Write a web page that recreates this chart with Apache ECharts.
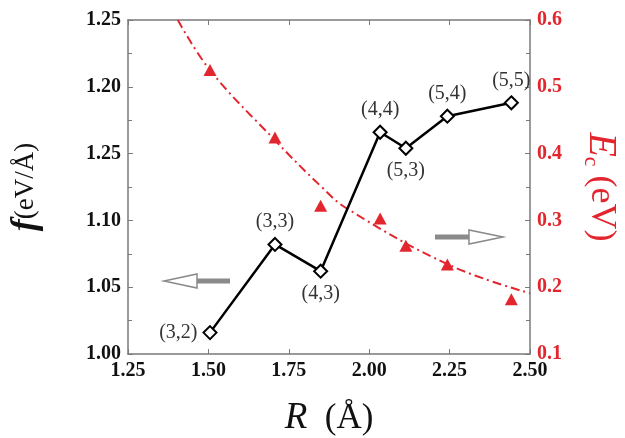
<!DOCTYPE html>
<html>
<head>
<meta charset="utf-8">
<script src="https://cdn.jsdelivr.net/npm/echarts@6/dist/echarts.min.js"></script>
<style>html,body{margin:0;padding:0;background:#fff}#c{width:625px;height:438px}</style>
</head>
<body>
<div id="c"></div>
<script>
// ---- data ----
var radius = [1.505, 1.707, 1.849, 2.034, 2.114, 2.243, 2.442];
var forceF = [1.016, 1.082, 1.062, 1.166, 1.154, 1.178, 1.188];
var pairLabels = ['(3,2)', '(3,3)', '(4,3)', '(4,4)', '(5,3)', '(5,4)', '(5,5)'];
var energyEc = [0.525, 0.424, 0.322, 0.303, 0.262, 0.234, 0.182];
var fitR = [1.405, 1.505, 1.707, 1.85, 1.93, 2.25, 2.5];
var fitEc = [0.60, 0.525, 0.42, 0.351, 0.318, 0.233, 0.191];
var leftTickLabels = ['1.00', '1.05', '1.10', '1.25', '1.20', '1.25'];
var rightTickLabels = ['0.1', '0.2', '0.3', '0.4', '0.5', '0.6'];
var xTickLabels = ['1.25', '1.50', '1.75', '2.00', '2.25', '2.50'];

var labelPos = ['left', 'top', 'bottom', 'top', 'bottom', 'top', 'top'];
var RED = '#e3262e';
var GRAY = '#7a7a7a';
var FONT = 'Liberation Serif';

var chart = echarts.init(document.getElementById('c'), null, {renderer: 'canvas'});
var blackData = radius.map(function (r, i) {
  return {value: [r, forceF[i]], label: {position: labelPos[i]}};
});
var option = {
  animation: false,
  grid: {left: 128, right: 95, top: 20, bottom: 84, containLabel: false, outerBoundsMode: 'none'},
  xAxis: [{
    type: 'value', min: 1.25, max: 2.5, interval: 0.25,
    axisLine: {lineStyle: {color: GRAY, width: 1.5}},
    axisTick: {inside: true, length: 5, lineStyle: {color: GRAY}},
    splitLine: {show: false},
    axisLabel: {
      margin: 7, color: '#111', fontFamily: FONT, fontWeight: 'bold', fontSize: 20,
      formatter: function (v) { return xTickLabels[Math.round((v - 1.25) / 0.25)]; }
    },
    name: '{r|R}{u|  (Å)}', nameLocation: 'middle', nameGap: 46,
    nameTextStyle: {rich: {
      r: {fontFamily: FONT, fontStyle: 'italic', fontSize: 37, color: '#111'},
      u: {fontFamily: FONT, fontSize: 35, color: '#111'}
    }}
  }, {
    type: 'value', position: 'top', min: 1.25, max: 2.5, interval: 0.25,
    axisLine: {lineStyle: {color: GRAY, width: 1.5}},
    axisTick: {inside: true, length: 5, lineStyle: {color: GRAY}},
    axisLabel: {show: false}, splitLine: {show: false}
  }],
  yAxis: [{
    type: 'value', min: 1.0, max: 1.25, interval: 0.05,
    axisLine: {show: true, lineStyle: {color: GRAY, width: 1.5}},
    axisTick: {show: true, inside: true, length: 5, lineStyle: {color: GRAY}},
    minorTick: {show: true, splitNumber: 2, length: 4, lineStyle: {color: GRAY}},
    splitLine: {show: false},
    axisLabel: {
      margin: 7, color: '#111', fontFamily: FONT, fontWeight: 'bold', fontSize: 20,
      formatter: function (v) { return leftTickLabels[Math.round((v - 1.0) / 0.05)]; }
    },
    name: '{f|f}{u|(eV/Å)}', nameLocation: 'middle', nameRotate: 90, nameGap: 84,
    nameTextStyle: {rich: {
      f: {fontFamily: FONT, fontStyle: 'italic', fontWeight: 'bold', fontSize: 36, color: '#111'},
      u: {fontFamily: FONT, fontSize: 27, color: '#111'}
    }}
  }, {
    type: 'value', position: 'right', min: 0.1, max: 0.6, interval: 0.1,
    axisLine: {show: true, lineStyle: {color: GRAY, width: 1.5}},
    axisTick: {show: true, inside: true, length: 5, lineStyle: {color: GRAY}},
    minorTick: {show: true, splitNumber: 2, length: 4, lineStyle: {color: GRAY}},
    splitLine: {show: false},
    axisLabel: {
      margin: 7, color: RED, fontFamily: FONT, fontWeight: 'bold', fontSize: 20,
      formatter: function (v) { return rightTickLabels[Math.round((v - 0.1) / 0.1)]; }
    },
    name: '{e|E}{c|c}{u| (eV)}', nameLocation: 'middle', nameRotate: -90, nameGap: 50,
    nameTextStyle: {rich: {
      e: {fontFamily: FONT, fontStyle: 'italic', fontSize: 40, color: RED},
      c: {fontFamily: FONT, fontSize: 22, color: RED, verticalAlign: 'bottom', padding: [20, 0, 0, 0]},
      u: {fontFamily: FONT, fontSize: 36, color: RED}
    }}
  }],
  series: [{
    type: 'line', xAxisIndex: 0, yAxisIndex: 1, data: fitR.map(function (r, i) { return [r, fitEc[i]]; }),
    smooth: 0.4, showSymbol: false, lineStyle: {color: RED, width: 2, type: [9, 4, 2, 4]}, z: 2
  }, {
    type: 'scatter', xAxisIndex: 0, yAxisIndex: 1, data: radius.map(function (r, i) { return [r, energyEc[i]]; }),
    symbol: 'triangle', symbolSize: [13, 12], itemStyle: {color: RED, opacity: 1}, z: 3
  }, {
    type: 'line', xAxisIndex: 0, yAxisIndex: 0, data: blackData,
    symbol: 'diamond', symbolSize: 13, showSymbol: true,
    lineStyle: {color: '#000', width: 2.5},
    itemStyle: {color: '#fff', borderColor: '#000', borderWidth: 2},
    label: {show: true, formatter: function (p) { return pairLabels[p.dataIndex]; },
      fontFamily: FONT, fontSize: 20, color: '#333', distance: 5},
    z: 4
  }],
  graphic: [
    {type: 'rect', shape: {x: 196, y: 278.5, width: 34, height: 5}, style: {fill: '#8a8a8a'}},
    {type: 'polygon', shape: {points: [[164, 281], [197, 274], [197, 288]]}, style: {fill: '#fff', stroke: '#8a8a8a', lineWidth: 1.5}},
    {type: 'rect', shape: {x: 435, y: 234.5, width: 34, height: 5}, style: {fill: '#8a8a8a'}},
    {type: 'polygon', shape: {points: [[503, 237], [469, 230], [469, 244]]}, style: {fill: '#fff', stroke: '#8a8a8a', lineWidth: 1.5}}
  ]
};
chart.setOption(option);
</script>
</body>
</html>
